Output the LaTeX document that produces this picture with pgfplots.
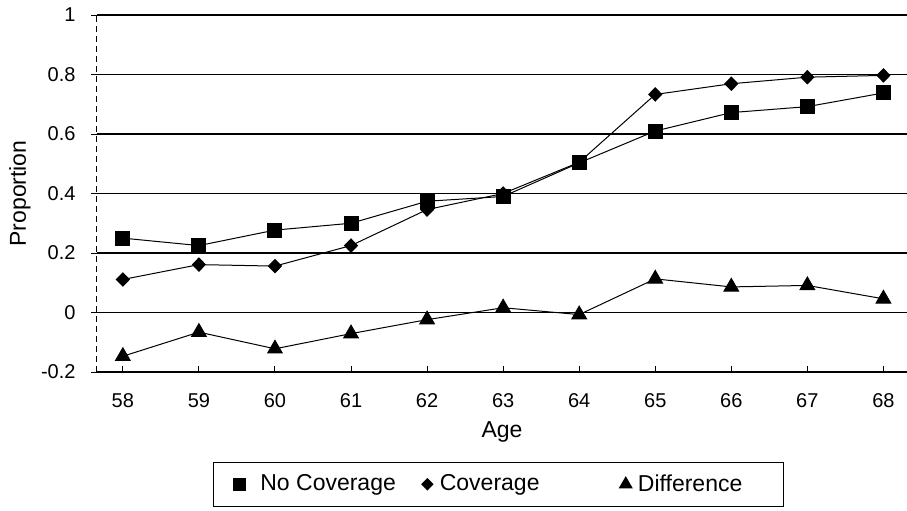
\documentclass[border=0pt]{standalone}
\usepackage{fontspec}
\setmainfont{Liberation Sans}
\usepackage{pgfplots}
\pgfplotsset{compat=1.18}
\begin{document}
\begin{tikzpicture}
\useasboundingbox (-48.5pt,-69pt) rectangle (405pt,186pt);
\begin{axis}[
  scale only axis, width=405pt, height=178.5pt,
  xmin=57.66, xmax=68.31, ymin=-0.2, ymax=1,
  axis lines*=left,
  xtick={58,59,60,61,62,63,64,65,66,67,68},
  ytick={-0.2,0,0.2,0.4,0.6,0.8,1},
  yticklabels={-0.2,0,0.2,0.4,0.6,0.8,1},
  /pgf/number format/assume math mode=true,
  ticklabel style={font=\fontsize{10}{12}\selectfont},
  xtick align=inside, ytick align=outside, major tick length=3pt,
  ymajorgrids, grid style={black, line width=0.8pt},
  x axis line style={line width=0.8pt},
  y axis line style={line width=0.5pt, densely dashed},
  tick style={black, line width=0.5pt},
  xlabel={Age}, ylabel={Proportion},
  label style={font=\fontsize{11.5}{14}\selectfont},
  xlabel style={at={(axis description cs:0.5,-0.168)}, anchor=center},
  ylabel style={at={(axis description cs:-0.095,0.5)}, anchor=center},
  xticklabel style={anchor=center, yshift=-14.5pt},
  yticklabel style={xshift=-4.2pt},
  legend style={at={(0.1432,-0.252)}, anchor=north west, legend columns=3,
    draw=black, line width=0.5pt, font=\fontsize{11.5}{14}\selectfont,
    inner ysep=4pt, inner xsep=10pt,
    /tikz/column 1/.style={column sep=5.5pt},
    /tikz/column 2/.style={column sep=11pt},
    /tikz/column 3/.style={column sep=1.5pt},
    /tikz/column 4/.style={column sep=38pt},
    /tikz/column 5/.style={column sep=1pt}},
  legend image code/.code={\draw[#1, only marks, every mark/.append style={scale=0.85}] plot coordinates {(0.15cm,0cm)};},
  every axis plot/.append style={black, line width=0.5pt},
]
\addplot[mark=square*, mark size=3.5pt] coordinates {
  (58,0.250) (59,0.225) (60,0.277) (61,0.300) (62,0.374) (63,0.390)
  (64,0.503) (65,0.610) (66,0.672) (67,0.692) (68,0.738)};
\addlegendentry{No Coverage}
\addplot[mark=diamond*, mark size=3.3pt, mark options={xscale=1.3}] coordinates {
  (58,0.111) (59,0.161) (60,0.156) (61,0.225) (62,0.346) (63,0.400)
  (64,0.505) (65,0.733) (66,0.769) (67,0.791) (68,0.797)};
\addlegendentry{Coverage}
\addplot[mark=triangle*, mark size=4.2pt] coordinates {
  (58,-0.147) (59,-0.066) (60,-0.122) (61,-0.071) (62,-0.024) (63,0.016)
  (64,-0.007) (65,0.113) (66,0.086) (67,0.091) (68,0.046)};
\addlegendentry{Difference\hspace{8.5pt}\mbox{}}
\end{axis}
\end{tikzpicture}
\end{document}
